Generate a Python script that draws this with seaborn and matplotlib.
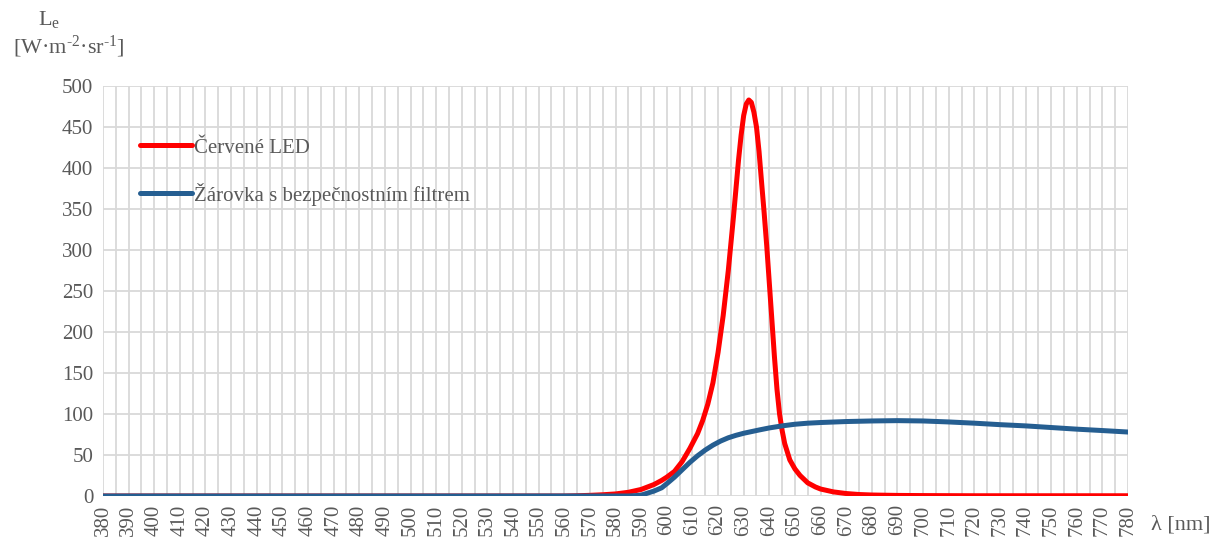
import numpy as np
import pandas as pd
import matplotlib
matplotlib.use("Agg")
import matplotlib.pyplot as plt
import seaborn as sns
from matplotlib.ticker import MultipleLocator

# Spectral radiance samples (wavelength in nm, radiance in W·m^-2·sr^-1)
led_wavelength = [380, 400, 420, 440, 460, 480, 500, 520, 540, 560,
                  565, 570, 575, 580, 585, 590, 595, 598, 600, 603,
                  606, 609, 612, 614, 616, 618, 620, 622, 624, 626,
                  628, 629, 630, 631, 632, 633, 634, 635, 636, 637,
                  638, 639, 640, 641, 642, 643, 644, 645, 646, 648,
                  650, 652, 655, 658, 660, 665, 670, 675, 680, 690,
                  700, 720, 740, 760, 780]
led_radiance = [0, 0, 0, 0, 0, 0, 0, 0, 0, 0,
                0.3, 0.8, 1.5, 2.5, 4.5, 8, 14, 19, 23, 30,
                42, 58, 76, 92, 112, 138, 175, 220, 275, 340,
                410, 440, 464, 478, 483, 480, 468, 450, 420, 382,
                345, 305, 260, 215, 170, 130, 100, 80, 64, 44,
                33, 25, 16, 11, 8.5, 5, 3, 1.8, 1.2, 0.7,
                0.5, 0.3, 0.3, 0.3, 0.3]

bulb_wavelength = [380, 400, 420, 440, 460, 480, 500, 520, 540, 560,
                   580, 585, 588, 590, 592, 595, 598, 600, 603, 606,
                   609, 612, 615, 618, 621, 624, 627, 630, 633, 636,
                   640, 645, 650, 655, 660, 670, 680, 690, 700, 710,
                   720, 730, 740, 750, 760, 770, 780]
bulb_radiance = [0, 0, 0, 0, 0, 0, 0, 0, 0, 0,
                 0, 0, 0.5, 1, 3, 6, 10, 15, 23, 32,
                 41, 49, 56, 62, 67, 71, 74, 76.5, 78.5, 80.5,
                 83, 85.5, 87.5, 88.8, 89.6, 90.8, 91.5, 91.9, 91.5, 90.3,
                 88.8, 87, 85.5, 83.5, 81.5, 79.8, 78]

series_names = ["Červené LED", "Žárovka s bezpečnostním filtrem"]
series_colors = ["#FF0000", "#255E91"]
x_ticks = list(range(380, 781, 10))
y_ticks = list(range(0, 501, 50))

df = pd.concat([
    pd.DataFrame({"wl": led_wavelength, "L": led_radiance, "series": series_names[0]}),
    pd.DataFrame({"wl": bulb_wavelength, "L": bulb_radiance, "series": series_names[1]}),
], ignore_index=True)

sns.set_style("white")
plt.rcParams["font.family"] = ["Liberation Serif", "DejaVu Serif"]
plt.rcParams["mathtext.fontset"] = "custom"
plt.rcParams["mathtext.rm"] = "Liberation Serif"
plt.rcParams["mathtext.it"] = "Liberation Serif:italic"

text_color = "#595959"
grid_color = "#D9D9D9"
fs = 15

fig = plt.figure(figsize=(12.13, 5.40), dpi=100)
ax = fig.add_axes([0.0849, 0.0815, 0.8451, 0.7592])

sns.lineplot(data=df, x="wl", y="L", hue="series", hue_order=series_names,
             palette=series_colors, linewidth=3.6, ax=ax, sort=False,
             solid_capstyle="round", solid_joinstyle="round", zorder=3)

ax.set_xlim(380, 780)
ax.set_ylim(0, 500)
ax.set_xticks(x_ticks)
ax.set_xticklabels([str(t) for t in x_ticks], rotation=90)
ax.xaxis.set_minor_locator(MultipleLocator(5))
ax.set_yticks(y_ticks)
ax.grid(True, which="both", axis="x", color=grid_color, linewidth=1.3)
ax.grid(True, which="major", axis="y", color=grid_color, linewidth=1.3)
ax.set_axisbelow(True)
for s in ax.spines.values():
    s.set_visible(False)
ax.tick_params(axis="y", which="both", length=0, labelsize=fs,
               labelcolor=text_color, pad=7)
ax.tick_params(axis="x", which="both", length=0, labelsize=fs,
               labelcolor=text_color, pad=6)
ax.set_xlabel("")
ax.set_ylabel("")

leg = ax.legend(loc="upper left", bbox_to_anchor=(0.036, 0.873), frameon=False,
                fontsize=fs, handlelength=2.5, handletextpad=0.1,
                labelspacing=1.2, borderpad=0, borderaxespad=0)
for t in leg.get_texts():
    t.set_color(text_color)
for h in leg.get_lines():
    h.set_linewidth(3.6)

fig.text(0.0405, 0.963, r"L$_{\mathrm{e}}$", ha="center", va="center",
         fontsize=16, color=text_color)
fig.text(0.0565, 0.913, r"[W·m$^{\text{-2}}$·sr$^{\text{-1}}$]",
         ha="center", va="center", fontsize=16, color=text_color)
fig.text(0.9485, 0.027, "λ [nm]", ha="left", va="center", fontsize=16,
         color=text_color)

fig.savefig("out.png", dpi=100)
